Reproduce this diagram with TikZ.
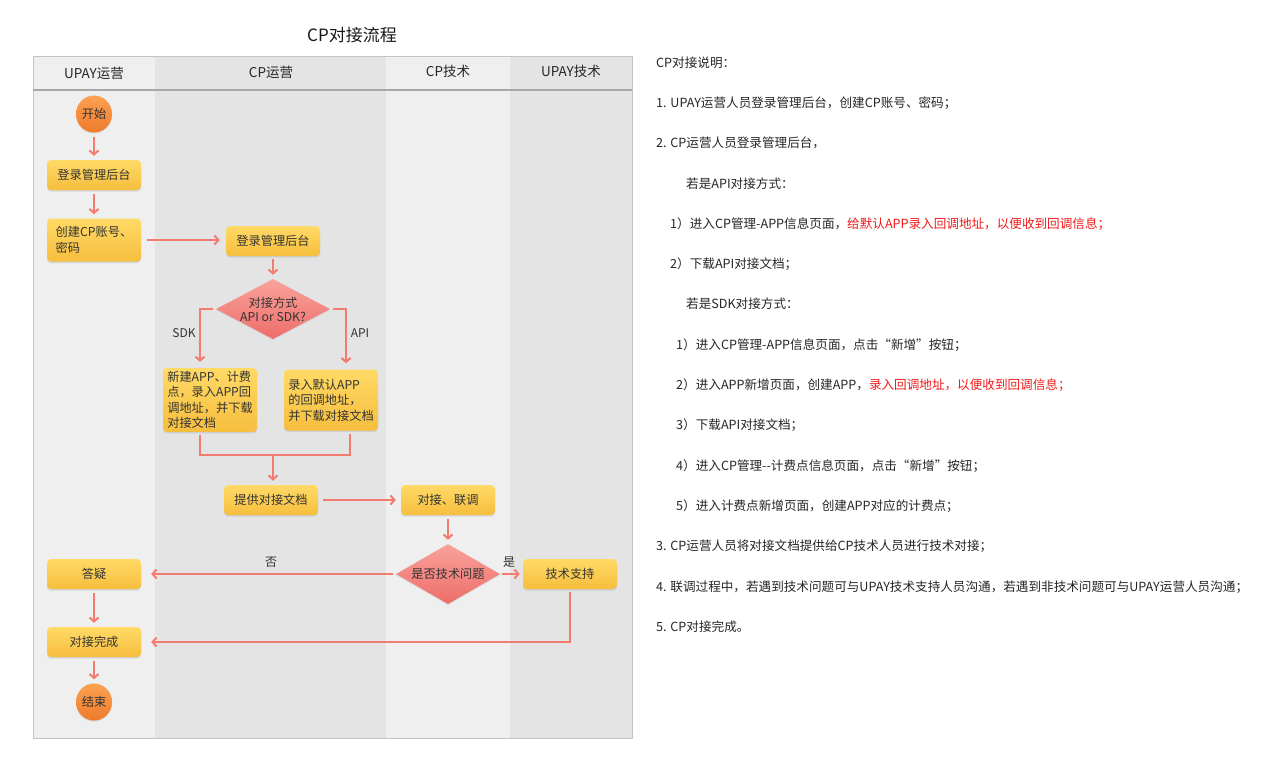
\documentclass[tikz,border=0pt]{standalone}
\usepackage{fontspec}
\setmainfont{Noto Sans CJK SC}
\usetikzlibrary{arrows.meta,shapes.geometric,shadows,calc}
\definecolor{laneA}{HTML}{EFEFEF}
\definecolor{laneB}{HTML}{E4E4E4}
\definecolor{hdrline}{HTML}{A8A8A8}
\definecolor{border}{HTML}{C4C4C4}
\definecolor{boxT}{HTML}{FFDA66}
\definecolor{boxB}{HTML}{F6BE3E}
\definecolor{cirT}{HTML}{FCA053}
\definecolor{cirB}{HTML}{EE7C2A}
\definecolor{diaT}{HTML}{F9A29C}
\definecolor{diaB}{HTML}{EE6D68}
\definecolor{arrc}{HTML}{F47B70}
\definecolor{txt}{HTML}{333333}
\definecolor{redt}{HTML}{F01A1A}
\begin{document}
\begin{tikzpicture}[x=1pt,y=-1pt,
  box/.style={rounded corners=4pt, minimum width=94pt, minimum height=30pt, inner sep=3pt,
    top color=boxT, bottom color=boxB, text=txt, font=\fontsize{12.2}{15.5}\selectfont,
    drop shadow={opacity=0.22, shadow xshift=0pt, shadow yshift=-1.5pt}},
  term/.style={ellipse, minimum width=36pt, minimum height=37pt, inner sep=0pt,
    top color=cirT, bottom color=cirB, text=txt, font=\fontsize{12.2}{14}\selectfont,
    drop shadow={opacity=0.18, shadow xshift=0pt, shadow yshift=-1.2pt}},
  dia/.style={diamond, inner sep=0pt, top color=diaT, bottom color=diaB,
    drop shadow={opacity=0.18, shadow xshift=0pt, shadow yshift=-1.2pt}},
  arr/.style={draw=arrc, line width=2pt, -{Straight Barb[length=4pt,width=9pt]},
    shorten <=4pt, shorten >=4pt},
  ln/.style={draw=arrc, line width=2pt},
  lbl/.style={font=\fontsize{12}{14}\selectfont, text=txt},
  lanehead/.style={font=\fontsize{13.5}{15}\selectfont, text=black!85},
  rt/.style={anchor=west, inner sep=0pt, font=\fontsize{12.6}{15}\selectfont, text=black!85}]
\useasboundingbox (0,0) rectangle (1276,776);
\fill[white] (0,0) rectangle (1276,776);
% title
\node[font=\fontsize{17}{20}\selectfont, text=black!90] (title) at (352,35) {CP对接流程};
% swimlanes
\fill[laneA] (33,57) rectangle (155,738);
\fill[laneB] (155,57) rectangle (386,738);
\fill[laneA] (386,57) rectangle (510,738);
\fill[laneB] (510,57) rectangle (632,738);
\draw[border, line width=1pt] (33,57) rectangle (632,738);
\draw[hdrline, line width=1.5pt] (33,90) -- (632,90);
\node[lanehead] (h1) at (94,73) {UPAY运营};
\node[lanehead] (h2) at (271,72) {CP运营};
\node[lanehead] (h3) at (448,71) {CP技术};
\node[lanehead] (h4) at (571,71) {UPAY技术};
% nodes
\node[term] (start) at (94,114) {开始};
\node[box] (login1) at (94,175) {登录管理后台};
\node[box, minimum height=43pt, align=left] (create) at (94,240) {创建CP账号、\\密码\phantom{CP账号、}};
\node[box] (login2) at (273,241) {登录管理后台};
\node[dia, minimum width=114pt, minimum height=60pt,
  label={[align=center, font=\fontsize{12.2}{14}\selectfont, text=txt]center:对接方式\\API or SDK?}] (d1) at (273,309) {};
\node[box, minimum height=61pt, align=left] (sdk) at (210,400) {新建APP、计费\\点，录入APP回\\调地址，并下载\\对接文档\phantom{并下载}};
\node[box, minimum height=61pt, align=left] (api) at (331,400) {录入默认APP\phantom{文}\\的回调地址，\phantom{档}\\并下载对接文档};
\coordinate (m) at (273,455);
\node[box] (prov) at (271,500) {提供对接文档};
\node[box] (join) at (448,500) {对接、联调};
\node[dia, minimum width=104pt, minimum height=60pt,
  label={[font=\fontsize{12.2}{14}\selectfont, text=txt]center:是否技术问题}] (d2) at (448,574) {};
\node[box] (sup) at (570,574) {技术支持};
\node[box] (qa) at (94,574) {答疑};
\node[box] (done) at (94,642) {对接完成};
\node[term] (stop) at (94,702) {结束};
% connectors
\draw[arr] (start) -- (login1);
\draw[arr] (login1) -- (create);
\draw[arr, shorten <=6pt, shorten >=6pt] (create.east) -- (create.east -| login2.west);
\draw[arr, shorten <=3pt] (login2) -- (d1);
\draw[arr, shorten <=3pt, shorten >=6pt] (d1.west) -| ([xshift=-10pt]sdk.north);
\draw[arr, shorten <=3pt, shorten >=6pt] (d1.east) -| ([xshift=15pt]api.north);
\node[lbl] (lsdk) at (184,333) {SDK};
\node[lbl] (lapi) at (360,333) {API};
\draw[ln] ([xshift=-10pt,yshift=-3pt]sdk.south) |- (m) -| ([xshift=19pt,yshift=-3pt]api.south);
\draw[arr, shorten <=0pt] (m) -- (m |- prov.north);
\draw[arr, shorten <=5pt, shorten >=5pt] (prov.east) -- (join.west);
\draw[arr] (join) -- (d2);
\draw[arr, shorten <=2pt, shorten >=3pt] (d2.east) -- (sup.west);
\node[lbl] (lyes) at (509,562) {是};
\draw[arr, shorten <=3pt, shorten >=10pt] (d2.west) -- (d2.west -| qa.east);
\node[lbl] (lno) at (271,562) {否};
\draw[arr] (qa) -- (done);
\draw[arr, shorten <=3pt, shorten >=10pt] (sup.south) |- (done.east);
\draw[arr] (done) -- (stop);
% description text
\node[rt] (r0) at (656,63) {CP对接说明：};
\node[rt] (r1) at (656,103) {1. UPAY运营人员登录管理后台，创建CP账号、密码；};
\node[rt] (r2) at (656,143) {2. CP运营人员登录管理后台，};
\node[rt] (r3) at (686,184) {若是API对接方式：};
\node[rt] (r4) at (670,224) {1）进入CP管理-APP信息页面，\textcolor{redt}{给默认APP录入回调地址，以便收到回调信息；}};
\node[rt] (r5) at (670,264) {2）下载API对接文档；};
\node[rt] (r6) at (686,304) {若是SDK对接方式：};
\node[rt] (r7) at (676,345) {1）进入CP管理-APP信息页面，点击“新增”按钮；};
\node[rt] (r8) at (676,385) {2）进入APP新增页面，创建APP，\textcolor{redt}{录入回调地址，以便收到回调信息；}};
\node[rt] (r9) at (676,425) {3）下载API对接文档；};
\node[rt] (r10) at (676,466) {4）进入CP管理-\kern0pt-计费点信息页面，点击“新增”按钮；};
\node[rt] (r11) at (676,506) {5）进入计费点新增页面，创建APP对应的计费点；};
\node[rt] (r12) at (656,546) {3. CP运营人员将对接文档提供给CP技术人员进行技术对接；};
\node[rt] (r13) at (656,587) {4. 联调过程中，若遇到技术问题可与UPAY技术支持人员沟通，若遇到非技术问题可与UPAY运营人员沟通；};
\node[rt] (r14) at (656,627) {5. CP对接完成。};
\end{tikzpicture}
\end{document}
